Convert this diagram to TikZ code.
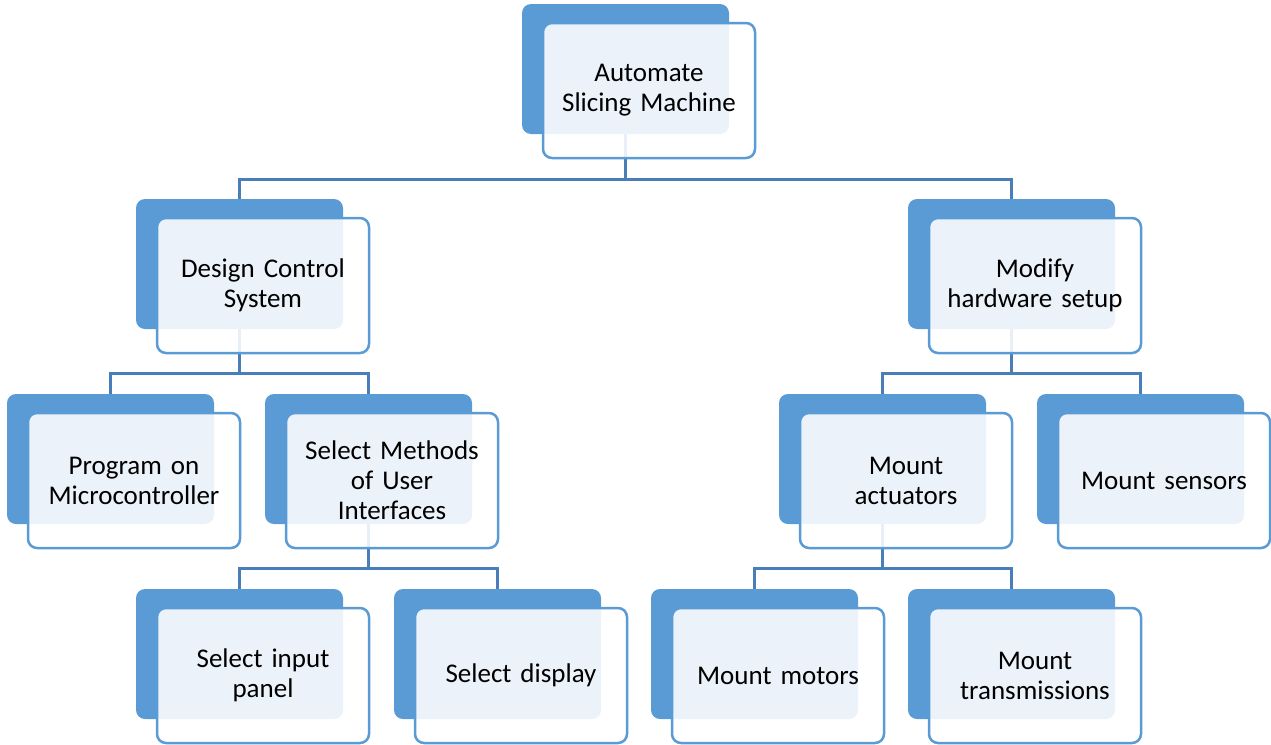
\documentclass[tikz,border=0pt]{standalone}
\usepackage{fontspec}
\setmainfont{Carlito}
\definecolor{boxblue}{HTML}{5B9BD5}
\definecolor{linkblue}{HTML}{4A7EBB}
\tikzset{
  backbox/.style={rectangle,rounded corners=9pt,fill=boxblue,minimum width=207pt,minimum height=130pt,inner sep=0pt},
  frontbox/.style={rectangle,rounded corners=9pt,draw=boxblue,line width=2.5pt,fill=white,fill opacity=0.88,text opacity=1,
    minimum width=212pt,minimum height=135pt,text width=200pt,align=center,inner sep=4pt,
    font=\fontsize{27}{30}\selectfont},
  link/.style={draw=linkblue,line width=3pt}
}
\begin{document}
\begin{tikzpicture}[x=1pt,y=-1pt]
\useasboundingbox (0,0) rectangle (1271,744);

% back boxes
\node[backbox] (root-b) at (625.5,69) {};
\node[backbox] (dcs-b) at (239.5,264) {};
\node[backbox] (hw-b) at (1011.5,264) {};
\node[backbox] (prog-b) at (110.5,459) {};
\node[backbox] (ui-b) at (368.5,459) {};
\node[backbox] (act-b) at (882.5,459) {};
\node[backbox] (sens-b) at (1140.5,459) {};
\node[backbox] (inp-b) at (239.5,654) {};
\node[backbox] (disp-b) at (497.5,654) {};
\node[backbox] (mot-b) at (754.5,654) {};
\node[backbox] (trans-b) at (1011.5,654) {};

% connectors
\draw[link] (root-b.south) -- ++(0,45) -| (dcs-b.north);
\draw[link] (root-b.south) -- ++(0,45) -| (hw-b.north);
\draw[link] (dcs-b.south) -- ++(0,44) -| (prog-b.north);
\draw[link] (dcs-b.south) -- ++(0,44) -| (ui-b.north);
\draw[link] (hw-b.south) -- ++(0,44) -| (act-b.north);
\draw[link] (hw-b.south) -- ++(0,44) -| (sens-b.north);
\draw[link] (ui-b.south) -- ++(0,44) -| (inp-b.north);
\draw[link] (ui-b.south) -- ++(0,44) -| (disp-b.north);
\draw[link] (act-b.south) -- ++(0,44) -| (mot-b.north);
\draw[link] (act-b.south) -- ++(0,44) -| (trans-b.north);

% front boxes
\node[frontbox] (root) at (649,90.5) {Automate\\Slicing Machine};
\node[frontbox] (dcs) at (263,285.5) {Design Control\\System};
\node[frontbox] (hw) at (1035,285.5) {Modify\\hardware setup};
\node[frontbox] (prog) at (134,480.5) {Program on\\Microcontroller};
\node[frontbox] (ui) at (392,480.5) {Select Methods\\of User\\Interfaces};
\node[frontbox] (act) at (906,480.5) {Mount\\actuators};
\node[frontbox] (sens) at (1164,480.5) {Mount sensors};
\node[frontbox] (inp) at (263,675.5) {Select input\\panel};
\node[frontbox] (disp) at (521,675.5) {Select display};
\node[frontbox] (mot) at (778,675.5) {Mount motors};
\node[frontbox] (trans) at (1035,675.5) {Mount\\transmissions};
\end{tikzpicture}
\end{document}
